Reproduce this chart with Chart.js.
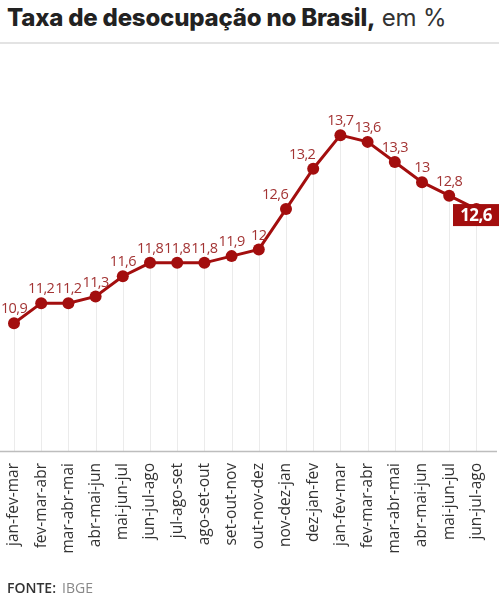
<!DOCTYPE html>
<html>
<head>
<meta charset="utf-8">
<script src="https://cdn.jsdelivr.net/npm/chart.js@4"></script>
<style>
  html, body { margin: 0; padding: 0; background: #fff; }
  body { width: 499px; height: 596px; position: relative; overflow: hidden; }
  #title { position: absolute; left: 7px; top: 3px; font-family: Inter, sans-serif; font-size: 24px; color: #222; white-space: nowrap; letter-spacing: -0.2px; }
  #title b { font-weight: 800; }
  #title span { font-weight: 400; color: #333; }
  #rule { position: absolute; left: 0; top: 42px; width: 499px; height: 2px; background: #e3e3e3; }
  #wrap { position: absolute; left: 0; top: 0; width: 499px; height: 596px; }
  #foot { position: absolute; left: 7px; top: 578px; font-family: "Open Sans", sans-serif; font-size: 14px; color: #333; }
  #foot b { font-weight: 600; }
  #foot span { color: #888; margin-left: 6px; }
</style>
</head>
<body>
<div id="title"><b>Taxa de desocupação no Brasil,</b><span> em %</span></div>
<div id="rule"></div>
<div id="wrap"><canvas id="c" width="499" height="596"></canvas></div>
<div id="foot"><b>FONTE:</b><span>IBGE</span></div>
<script>
const categories = ["jan-fev-mar","fev-mar-abr","mar-abr-mai","abr-mai-jun","mai-jun-jul","jun-jul-ago","jul-ago-set","ago-set-out","set-out-nov","out-nov-dez","nov-dez-jan","dez-jan-fev","jan-fev-mar","fev-mar-abr","mar-abr-mai","abr-mai-jun","mai-jun-jul","jun-jul-ago"];
const rates = [10.9, 11.2, 11.2, 11.3, 11.6, 11.8, 11.8, 11.8, 11.9, 12.0, 12.6, 13.2, 13.7, 13.6, 13.3, 13.0, 12.8, 12.6];

const RED = "#a30e0e";
const LABEL = "#a33434";
const fmt = v => String(v).replace(".", ",");

const dropLines = {
  id: "dropLines",
  beforeDatasetsDraw(chart) {
    const ctx = chart.ctx, meta = chart.getDatasetMeta(0), bottom = chart.chartArea.bottom;
    ctx.save();
    ctx.strokeStyle = "#ebebeb";
    ctx.lineWidth = 1;
    meta.data.forEach(p => {
      const x = Math.round(p.x) + 0.5;
      ctx.beginPath(); ctx.moveTo(x, p.y); ctx.lineTo(x, bottom); ctx.stroke();
    });
    ctx.strokeStyle = "#bdbdbd";
    ctx.lineWidth = 1.5;
    ctx.beginPath(); ctx.moveTo(0, bottom + 0.5); ctx.lineTo(chart.width - 2, bottom + 0.5); ctx.stroke();
    ctx.restore();
  }
};

const valueLabels = {
  id: "valueLabels",
  afterDatasetsDraw(chart) {
    const ctx = chart.ctx, meta = chart.getDatasetMeta(0), data = chart.data.datasets[0].data;
    ctx.save();
    ctx.textAlign = "center";
    ctx.textBaseline = "middle";
    meta.data.forEach((p, i) => {
      const v = data[i];
      if (i === data.length - 1) {
        ctx.font = "bold 17px 'Open Sans', sans-serif";
        const w = 46, h = 22;
        let left = Math.min(p.x - w / 2, chart.width - w);
        const top = p.y - 5;
        ctx.fillStyle = RED;
        ctx.fillRect(left, top, w, h);
        ctx.fillStyle = "#fff";
        ctx.fillText(fmt(v), left + w / 2, top + h / 2 + 1);
        return;
      }
      const prev = i > 0 ? v - data[i - 1] : 0;
      const next = i < data.length - 1 ? data[i + 1] - v : 0;
      const dx = (prev >= 0.5 && next >= 0.5) ? -11 : 0;
      ctx.font = "14.5px 'Open Sans', sans-serif";
      ctx.letterSpacing = "-0.6px";
      ctx.fillStyle = LABEL;
      ctx.fillText(fmt(v), p.x + dx, p.y - 14);
    });
    ctx.restore();
  }
};

new Chart(document.getElementById("c"), {
  type: "line",
  data: {
    labels: categories,
    datasets: [{
      data: rates,
      borderColor: RED,
      backgroundColor: RED,
      borderWidth: 3,
      pointRadius: 6,
      pointHoverRadius: 6,
      pointBackgroundColor: RED,
      pointBorderWidth: 0,
      tension: 0,
      clip: false
    }]
  },
  options: {
    responsive: false,
    animation: false,
    events: [],
    layout: { padding: { top: 115, left: 14, right: 18, bottom: 0 } },
    plugins: { legend: { display: false }, tooltip: { enabled: false } },
    scales: {
      y: { display: false, min: 9, max: 14 },
      x: {
        offset: false,
        grid: { display: false },
        border: { display: false },
        ticks: {
          autoSkip: false,
          maxRotation: 90,
          minRotation: 90,
          padding: 4,
          color: "#333",
          font: { family: "'Open Sans', sans-serif", size: 15.5 }
        },
        afterFit(scale) { scale.height = 145; }
      }
    }
  },
  plugins: [dropLines, valueLabels]
});
</script>
</body>
</html>
